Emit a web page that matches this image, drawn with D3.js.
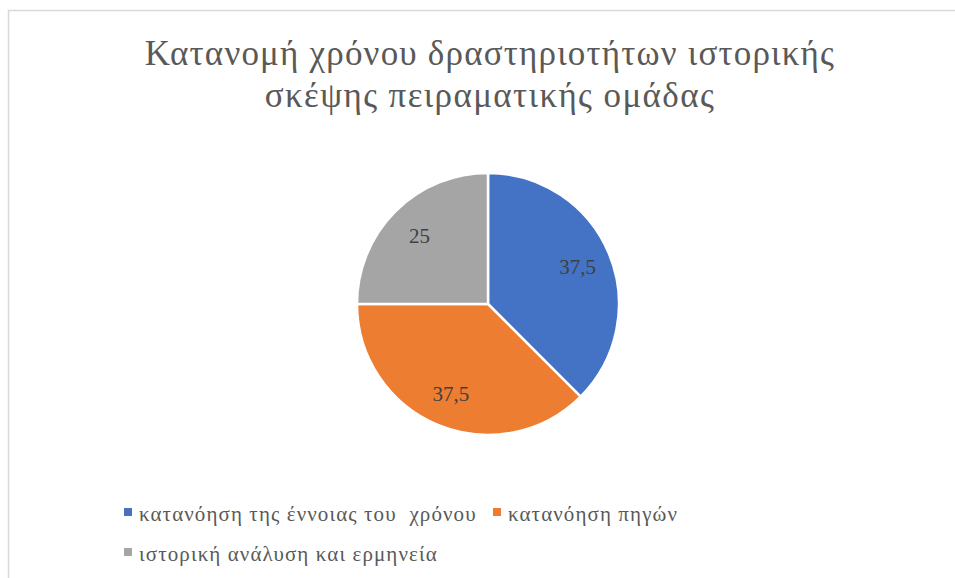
<!DOCTYPE html>
<html>
<head>
<meta charset="utf-8">
<script src="https://cdn.jsdelivr.net/npm/d3@7"></script>
<style>
  body { margin: 0; background: #fff; }
</style>
</head>
<body>
<div id="chart"></div>
<script>
// chart data
var titleLines = ["Κατανομή χρόνου δραστηριοτήτων ιστορικής", "σκέψης πειραματικής ομάδας"];
var categories = ["κατανόηση της έννοιας του  χρόνου", "κατανόηση πηγών", "ιστορική ανάλυση και ερμηνεία"];
var values = [37.5, 37.5, 25];
var valueLabels = ["37,5", "37,5", "25"];
var colors = ["#4472c4", "#ed7d31", "#a5a5a5"];

var fontFamily = "'Liberation Serif', 'Times New Roman', Tinos, 'DejaVu Serif', serif";
var width = 955, height = 578;
var cx = 488, cy = 304, radius = 131;

var svg = d3.select("#chart").append("svg")
    .attr("width", width)
    .attr("height", height)
    .attr("font-family", fontFamily);

// chart frame (only left and top edges are inside the picture)
svg.append("rect")
    .attr("x", 8.5).attr("y", 10.5)
    .attr("width", width + 20).attr("height", height + 20)
    .attr("fill", "#fff")
    .attr("stroke", "#d9d9d9")
    .attr("stroke-width", 1.5);

// title
svg.append("text")
    .attr("text-anchor", "middle")
    .attr("fill", "#595959")
    .attr("font-size", 35)
    .selectAll("tspan").data(titleLines).enter().append("tspan")
        .attr("x", 490)
        .attr("y", (d, i) => 65 + i * 42)
        .attr("letter-spacing", (d, i) => i === 0 ? 1.2 : 1.4)
        .text(d => d);

var pie = d3.pie().sort(null).value(d => d)(values);
var arc = d3.arc().innerRadius(0).outerRadius(radius);
var labelArc = d3.arc().innerRadius(radius * 0.74).outerRadius(radius * 0.74);

var g = svg.append("g")
    .attr("transform", "translate(" + cx + "," + cy + ")");

g.selectAll("path").data(pie).enter().append("path")
    .attr("d", arc)
    .attr("fill", (d, i) => colors[i])
    .attr("stroke", "#fff")
    .attr("stroke-width", 2.5);

g.selectAll(".lbl").data(pie).enter().append("text")
    .attr("class", "lbl")
    .attr("transform", d => "translate(" + labelArc.centroid(d) + ")")
    .attr("text-anchor", "middle")
    .attr("dy", "0.35em")
    .attr("fill", "#404040")
    .attr("font-size", 21)
    .text((d, i) => valueLabels[i]);

// legend
var legendPos = [[124, 508], [493, 508], [124, 548]];
var leg = svg.selectAll(".legendEntry").data(categories).enter().append("g")
    .attr("class", "legendEntry")
    .attr("transform", (d, i) => "translate(" + legendPos[i][0] + "," + legendPos[i][1] + ")");
leg.append("rect")
    .attr("width", 8).attr("height", 8)
    .attr("fill", (d, i) => colors[i]);
leg.append("text")
    .attr("x", 15).attr("y", 13)
    .attr("fill", "#595959")
    .attr("font-size", 21)
    .attr("letter-spacing", 1.1)
    .style("white-space", "pre")
    .text(d => d);
</script>
</body>
</html>
